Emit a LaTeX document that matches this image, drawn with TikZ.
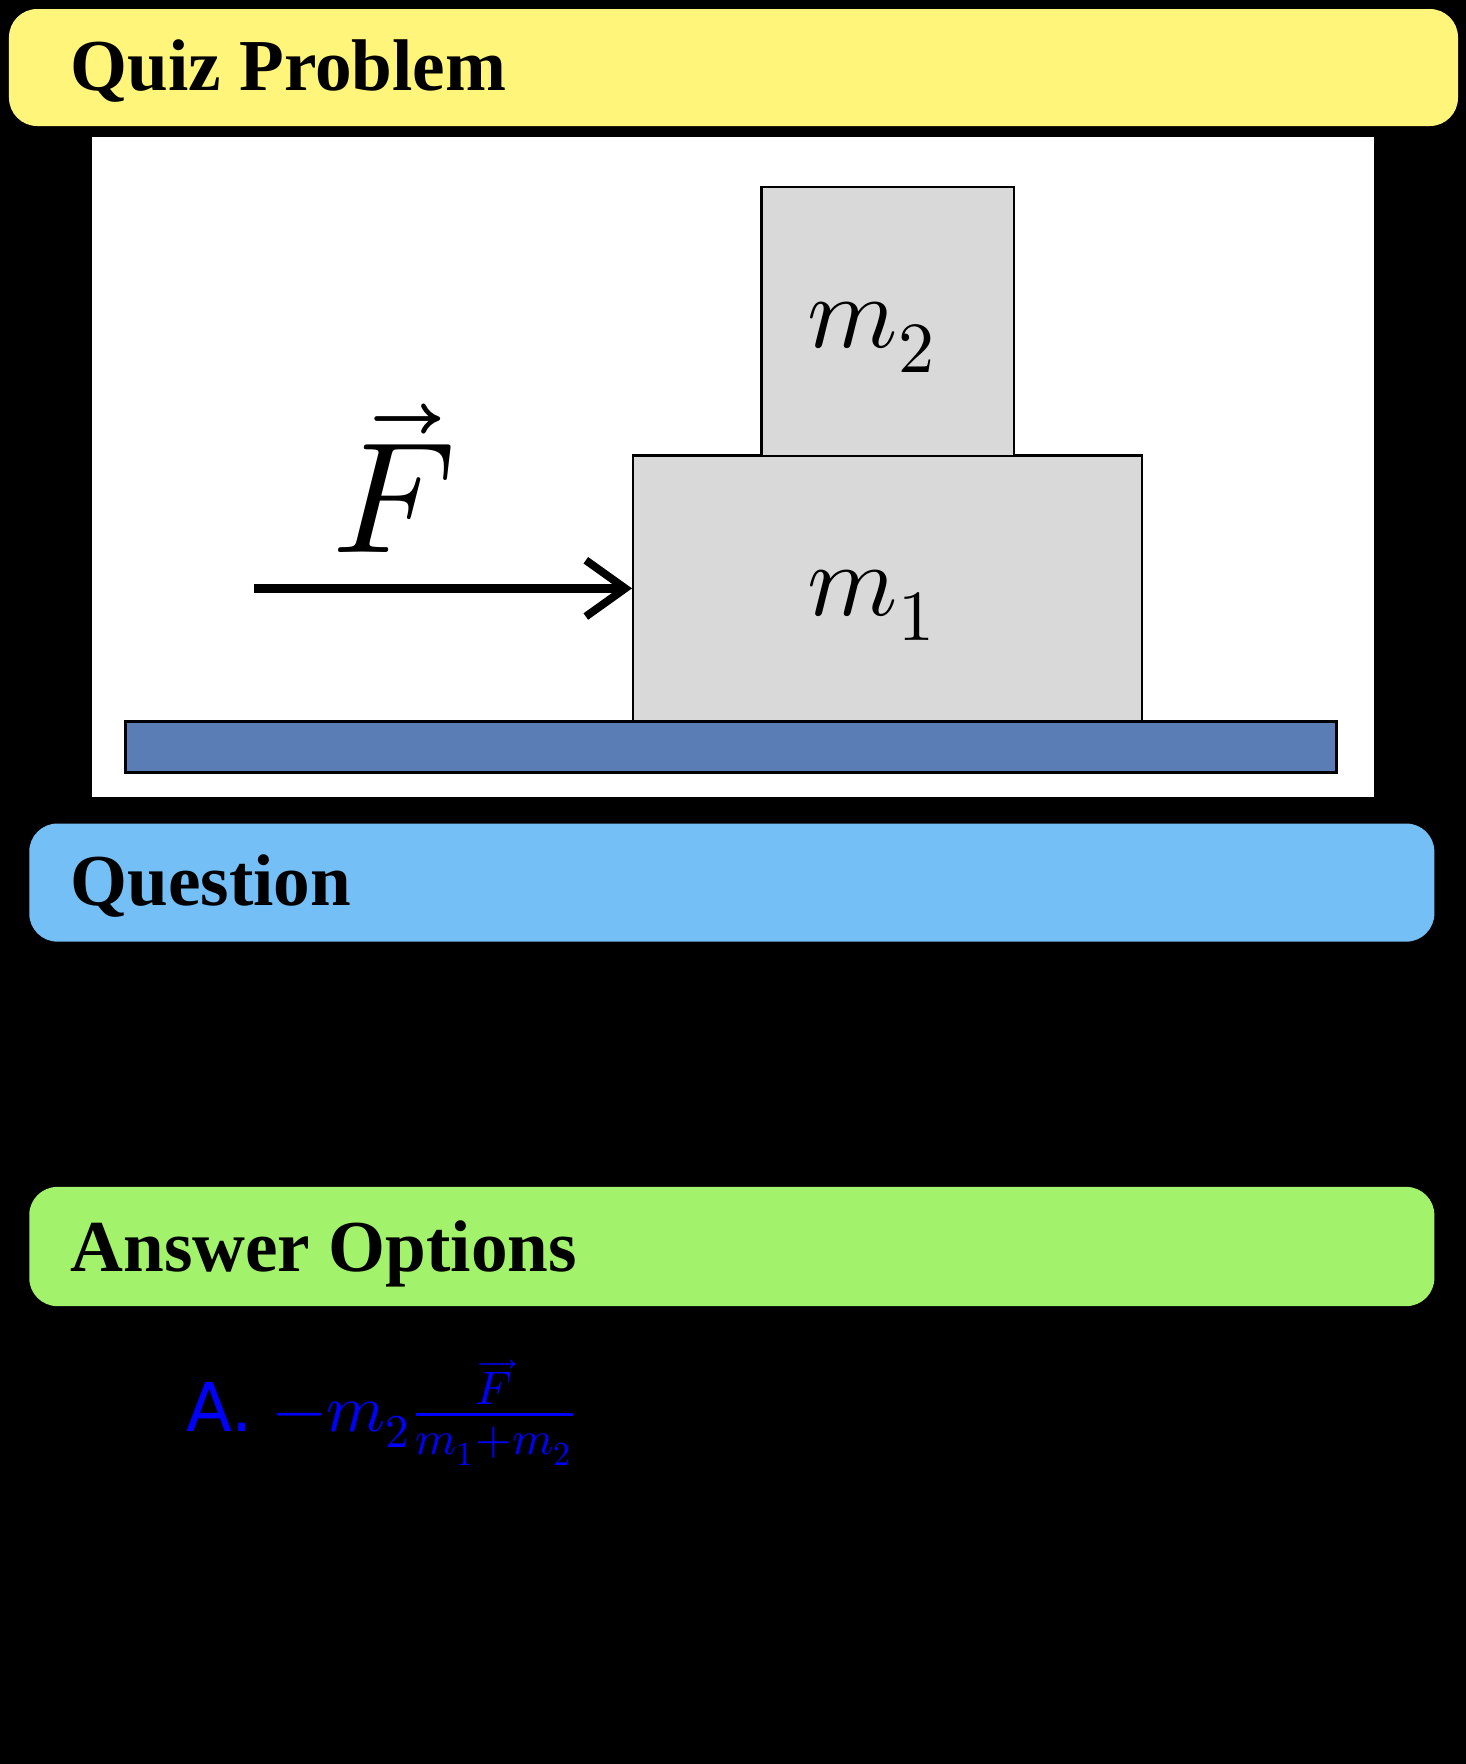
\documentclass[tikz,border=0pt]{standalone}
\usepackage{fontspec}
\setmainfont{Liberation Serif}
\setsansfont{DejaVu Sans}
\usepackage{unicode-math}
\usetikzlibrary{arrows.meta}
\definecolor{ylw}{HTML}{FEF57A}
\definecolor{blu}{HTML}{74BFF5}
\definecolor{grn}{HTML}{A3F26B}
\definecolor{flr}{HTML}{5B7DB5}
\definecolor{blk}{HTML}{D9D9D9}
\tikzset{hdr/.style={rounded corners=0.25cm},
  htxt/.style={anchor=base west,inner sep=0,font=\fontsize{18.5}{22}\selectfont\bfseries},
  blockbox/.style={draw=black,line width=0.6pt,fill=blk},
  mlab/.style={font=\fontsize{26}{30}\selectfont}}
\begin{document}
\begin{tikzpicture}[x=0.01cm,y=-0.01cm]
\fill[black] (0,0) rectangle (1303,1568);
\useasboundingbox (0,0) rectangle (1303,1568);
\fill[ylw,hdr] (8,8) rectangle (1296,112);
\node[htxt] (t1) at (62,80) {Quiz Problem};
\fill[white] (82,122) rectangle (1221,708);
\node[draw=black,line width=0.8pt,fill=flr,minimum width=10.76cm,minimum height=0.46cm,inner sep=0] (floor) at (650,664) {};
\node[blockbox,minimum width=4.52cm,minimum height=2.36cm,inner sep=0] (m1) at (789,523) {};
\node[blockbox,minimum width=2.24cm,minimum height=2.39cm,inner sep=0] (m2) at (789,285.5) {};
\node[mlab] at (775,538) {$m_1$};
\node[mlab] at (775,300) {$m_2$};
\coordinate (fs) at (226,523);
\draw[line width=2.2pt,-{Straight Barb[length=0.35cm,width=0.5cm,line width=2pt]}] (fs) -- (m1.west);
\node[font=\fontsize{40}{44}\selectfont] (F) at (350,425) {$\vec{F}$};
\fill[blu,hdr] (26,732) rectangle (1275,837);
\node[htxt] (t2) at (62,805) {Question};
\fill[grn,hdr] (26,1055) rectangle (1275,1161);
\node[htxt] (t3) at (62,1130) {Answer Options};
\node[anchor=base west,inner sep=0,text=blue,font=\fontsize{17}{20}\selectfont] (a) at (165,1272) {\sffamily A.~$-m_2\tfrac{\overrightarrow{F}}{m_1+m_2}$};
\end{tikzpicture}
\end{document}
